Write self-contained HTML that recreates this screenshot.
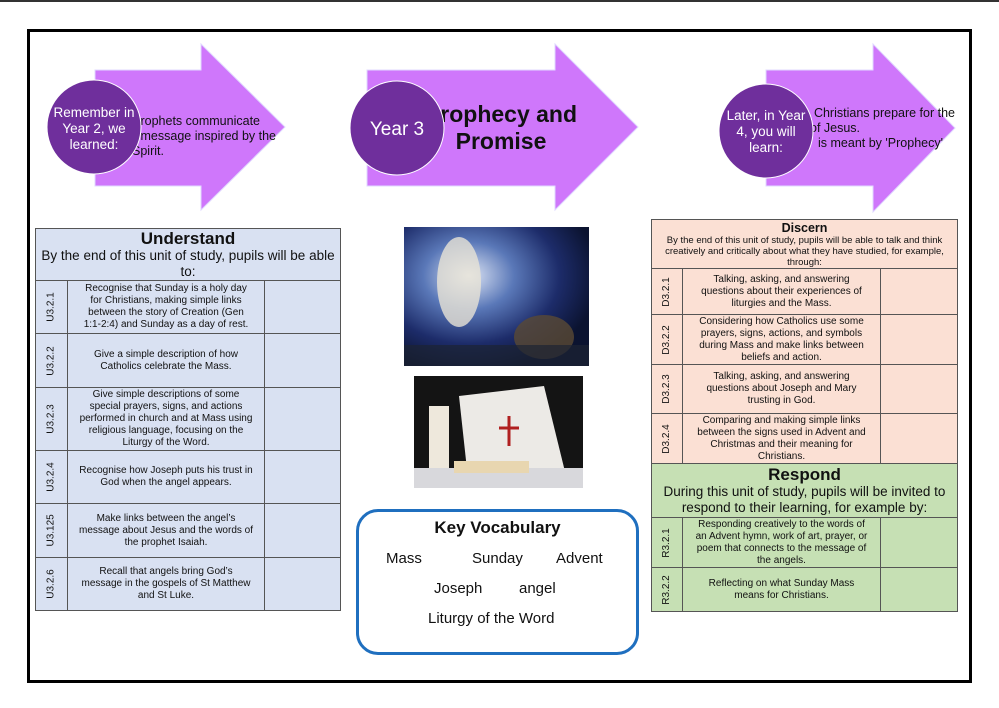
<!DOCTYPE html>
<html><head><meta charset="utf-8"><style>
*{margin:0;padding:0;box-sizing:border-box}
body{width:999px;height:708px;background:#fff;position:relative;overflow:hidden;font-family:"Liberation Sans",Arial,sans-serif;color:#111}
.a{position:absolute}
.t{white-space:nowrap;font-size:12.5px;line-height:15px;color:#111}
table{border-collapse:collapse;position:absolute;table-layout:fixed}
td{border:1px solid #555;font-size:10px;line-height:12px;text-align:center;vertical-align:middle;padding:0 11px}
td.id{padding:0}
td.id div{transform:rotate(-90deg);white-space:nowrap;font-size:10px}
.hd{font-size:13.5px;line-height:16px}
</style></head><body>
<div class="a" style="left:0;top:0;width:999px;height:2px;background:#333"></div>
<div class="a" style="left:27px;top:29px;width:945px;height:654px;border:3px solid #000"></div>

<svg class="a" style="left:0;top:0" width="999" height="230">
<g fill="#cf77fb" stroke="#e0d8ff" stroke-width="1">
<polygon points="95,70 201,70 201,44 285,127 201,210 201,186 95,186"/>
<polygon points="367,70 555,70 555,44 638,127 555,210 555,186 367,186"/>
<polygon points="766,70 873,70 873,44 955,128 873,212 873,186 766,186"/>
</g>
</svg>
<div class="a t" style="right:739px;top:114px">Prophets communicate</div>
<div class="a t" style="right:723px;top:129px">message inspired by the</div>
<div class="a t" style="left:132px;top:144px">Spirit.</div>
<div class="a" style="left:411px;top:101px;font-size:23px;font-weight:bold;line-height:27px;text-align:center;width:180px">Prophecy and<br>Promise</div>
<div class="a t" style="right:44px;top:106px">Christians prepare for the</div>
<div class="a t" style="left:810px;top:121px">of Jesus.</div>
<div class="a t" style="right:56px;top:136px">is meant by 'Prophecy'</div>
<svg class="a" style="left:0;top:0" width="999" height="230">
<g fill="#6f2f9c" stroke="#fff" stroke-width="1">
<circle cx="94" cy="127" r="47"/><circle cx="397" cy="128" r="47"/><circle cx="766" cy="131" r="47"/>
</g>
<g fill="#fff" font-family="Liberation Sans,Arial,sans-serif" text-anchor="middle">
<text font-size="13.5"><tspan x="94" y="117">Remember in</tspan><tspan x="94" y="133">Year 2, we</tspan><tspan x="94" y="149">learned:</tspan></text>
<text x="397" y="135" font-size="19">Year 3</text>
<text font-size="13.5"><tspan x="766" y="120">Later, in Year</tspan><tspan x="766" y="136">4, you will</tspan><tspan x="766" y="152">learn:</tspan></text>
</g>
</svg>

<table style="left:35px;top:228px;width:305px;background:#d9e1f2">
<colgroup><col style="width:32px"><col style="width:197px"><col style="width:76px"></colgroup>
<tr style="height:52px"><td colspan="3" style="padding:0 4px"><div style="font-size:17px;font-weight:bold;line-height:19px">Understand</div><div class="hd">By the end of this unit of study, pupils will be able to:</div></td></tr>
<tr style="height:53px"><td class="id"><div>U3.2.1</div></td><td>Recognise that Sunday is a holy day for Christians, making simple links between the story of Creation (Gen 1:1-2:4) and Sunday as a day of rest.</td><td></td></tr>
<tr style="height:54px"><td class="id"><div>U3.2.2</div></td><td>Give a simple description of how Catholics celebrate the Mass.</td><td></td></tr>
<tr style="height:63px"><td class="id"><div>U3.2.3</div></td><td>Give simple descriptions of some special prayers, signs, and actions performed in church and at Mass using religious language, focusing on the Liturgy of the Word.</td><td></td></tr>
<tr style="height:53px"><td class="id"><div>U3.2.4</div></td><td>Recognise how Joseph puts his trust in God when the angel appears.</td><td></td></tr>
<tr style="height:54px"><td class="id"><div>U3.125</div></td><td>Make links between the angel’s message about Jesus and the words of the prophet Isaiah.</td><td></td></tr>
<tr style="height:53px"><td class="id"><div>U3.2.6</div></td><td>Recall that angels bring God’s message in the gospels of St Matthew and St Luke.</td><td></td></tr>
</table>

<svg class="a" style="left:404px;top:227px" width="185" height="139">
<defs><radialGradient id="g1" cx="35%" cy="35%" r="70%"><stop offset="0" stop-color="#dfe6f5"/><stop offset=".35" stop-color="#5a78b8"/><stop offset=".7" stop-color="#1d2c6a"/><stop offset="1" stop-color="#0b1330"/></radialGradient></defs>
<rect width="185" height="139" fill="url(#g1)"/>
<ellipse cx="55" cy="55" rx="22" ry="45" fill="#e8e4d6" opacity=".8"/>
<ellipse cx="140" cy="110" rx="30" ry="22" fill="#5a4a35" opacity=".8"/>
<rect y="118" width="185" height="21" fill="#1c2333" opacity=".7"/>
</svg>
<svg class="a" style="left:414px;top:376px" width="169" height="112">
<rect width="169" height="112" fill="#141414"/>
<polygon points="45,20 130,10 155,112 55,112" fill="#eceae6"/>
<rect x="15" y="30" width="20" height="65" fill="#eee8dc"/>
<rect x="0" y="92" width="169" height="20" fill="#d8d8dc"/>
<rect x="40" y="85" width="75" height="12" fill="#e8d6b0"/>
<path d="M95 40 v30 M85 52 h20" stroke="#b02020" stroke-width="3"/>
</svg>

<div class="a" style="left:356px;top:509px;width:283px;height:146px;border:3px solid #1f6fbf;border-radius:22px;text-align:center">
<div style="font-size:17px;font-weight:bold;margin-top:6px">Key Vocabulary</div>
<div class="a" style="left:27px;top:38px;font-size:15px">Mass</div>
<div class="a" style="left:113px;top:38px;font-size:15px">Sunday</div>
<div class="a" style="left:197px;top:38px;font-size:15px">Advent</div>
<div class="a" style="left:75px;top:68px;font-size:15px">Joseph</div>
<div class="a" style="left:160px;top:68px;font-size:15px">angel</div>
<div class="a" style="left:69px;top:98px;font-size:15px">Liturgy of the Word</div>
</div>

<table style="left:651px;top:219px;width:306px;background:#fbe0d4">
<colgroup><col style="width:31px"><col style="width:198px"><col style="width:77px"></colgroup>
<tr style="height:49px"><td colspan="3" style="padding:0 10px"><div style="font-size:12.5px;font-weight:bold;line-height:14px">Discern</div><div style="font-size:9.5px;line-height:11px">By the end of this unit of study, pupils will be able to talk and think creatively and critically about what they have studied, for example, through:</div></td></tr>
<tr style="height:46px"><td class="id"><div>D3.2.1</div></td><td>Talking, asking, and answering questions about their experiences of liturgies and the Mass.</td><td></td></tr>
<tr style="height:50px"><td class="id"><div>D3.2.2</div></td><td>Considering how Catholics use some prayers, signs, actions, and symbols during Mass and make links between beliefs and action.</td><td></td></tr>
<tr style="height:49px"><td class="id"><div>D3.2.3</div></td><td>Talking, asking, and answering questions about Joseph and Mary trusting in God.</td><td></td></tr>
<tr style="height:50px"><td class="id"><div>D3.2.4</div></td><td>Comparing and making simple links between the signs used in Advent and Christmas and their meaning for Christians.</td><td></td></tr>
<tr style="height:54px;background:#c6e0b4"><td colspan="3" style="padding:0 4px"><div style="font-size:17px;font-weight:bold;line-height:19px">Respond</div><div class="hd">During this unit of study, pupils will be invited to respond to their learning, for example by:</div></td></tr>
<tr style="height:50px;background:#c6e0b4"><td class="id"><div>R3.2.1</div></td><td>Responding creatively to the words of an Advent hymn, work of art, prayer, or poem that connects to the message of the angels.</td><td></td></tr>
<tr style="height:44px;background:#c6e0b4"><td class="id"><div>R3.2.2</div></td><td>Reflecting on what Sunday Mass means for Christians.</td><td></td></tr>
</table>
</body></html>
